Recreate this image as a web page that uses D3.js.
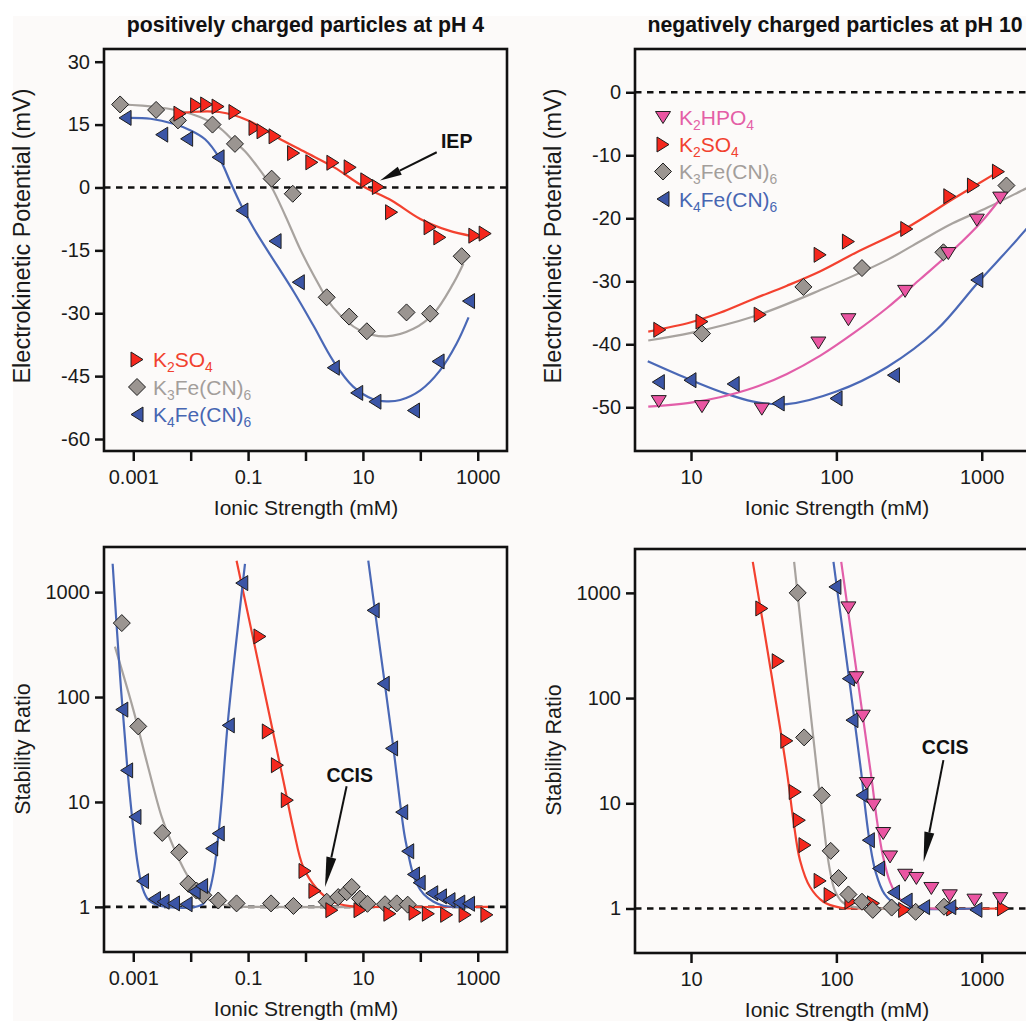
<!DOCTYPE html>
<html>
<head>
<meta charset="utf-8">
<script src="https://cdn.jsdelivr.net/npm/d3@7"></script>
<style>
  body { margin: 0; background: #ffffff; }
  svg { display: block; }
</style>
</head>
<body>
<svg id="chart" width="1026" height="1021"></svg>
<script>
// ---------------- DATA (ionic strength in mM) ----------------
const titleLeft = "positively charged particles at pH 4";
const titleRight = "negatively charged particles at pH 10";
const xAxisTitle = "Ionic Strength (mM)";
const yTitleTop = "Electrokinetic Potential (mV)";
const yTitleBottom = "Stability Ratio";

const xTicksLeft = [0.001, 0.01, 0.1, 1, 10, 100, 1000];
const xTickLabelsLeft = ["0.001", "", "0.1", "", "10", "", "1000"];
const xTicksRight = [10, 100, 1000];
const xTickLabelsRight = ["10", "100", "1000"];
const yTicksTL = [30, 15, 0, -15, -30, -45, -60];
const yTicksTR = [0, -10, -20, -30, -40, -50];
const yTicksStab = [1, 10, 100, 1000];

// legend labels: [text, subscript?]
const lblK2SO4 = [["K", 0], ["2", 1], ["SO", 0], ["4", 1]];
const lblK3Fe = [["K", 0], ["3", 1], ["Fe(CN)", 0], ["6", 1]];
const lblK4Fe = [["K", 0], ["4", 1], ["Fe(CN)", 0], ["6", 1]];
const lblK2HPO4 = [["K", 0], ["2", 1], ["HPO", 0], ["4", 1]];

// top-left: potential (mV) at pH 4
const tlK2SO4 = [[0.0065,17.6],[0.0127,19.6],[0.019,19.8],[0.030,19.3],[0.059,18.0],[0.132,14.2],[0.182,13.4],[0.295,12.2],[0.62,8.2],[1.29,6.0],[3.0,5.9],[6.0,4.8],[11.7,1.7],[18.6,0.1],[31.6,-5.9],[148,-9.5],[219,-11.9],[891,-11.5],[1349,-11.0]];
const tlK2SO4Fit = [[0.00646,17.6],[0.01,18.0],[0.0316,18.0],[0.1,16.0],[0.316,12.0],[1,8.4],[3.16,4.8],[10,0.3],[31.6,-3.1],[100,-7.5],[316,-10.3],[1000,-11.9],[1150,-12.1]];
const tlK3Fe = [[0.00059,19.8],[0.0025,18.5],[0.006,16.0],[0.024,15.0],[0.059,10.4],[0.257,2.1],[0.60,-1.5],[2.34,-26.2],[5.75,-30.8],[11.7,-34.3],[57.5,-29.8],[148,-30.1],[525,-16.4]];
const tlK3FeFit = [[0.000589,19.8],[0.00257,19.2],[0.00631,18.3],[0.0145,16.8],[0.0316,14.3],[0.055,11.2],[0.0891,8.6],[0.141,5.2],[0.251,0.3],[0.447,-6.8],[0.794,-14.5],[1.37,-20.8],[3.02,-28.6],[8.91,-34.1],[25.7,-35.5],[75.9,-33.7],[170,-30.1],[372,-23],[562,-18.2]];
const tlK4Fe = [[0.00072,16.6],[0.00313,12.6],[0.0085,11.6],[0.030,7.2],[0.078,-5.5],[0.295,-12.8],[0.75,-22.6],[3.05,-43.0],[7.8,-49.0],[16.2,-51.1],[76,-53.2],[204,-41.5],[692,-27.1]];
const tlK4FeFit = [[0.000708,16.6],[0.002,16.4],[0.00501,15.2],[0.01,13.6],[0.0178,11.5],[0.0316,7.0],[0.0501,1.0],[0.0794,-4.8],[0.126,-9.8],[0.224,-15.3],[0.631,-25.0],[1.38,-33.0],[3.02,-41.3],[6.76,-47.5],[15.1,-50.5],[25.7,-51],[44.7,-50.7],[100,-48.4],[219,-43.7],[427,-37.3],[692,-31]];

// top-right: potential (mV) at pH 10
const trK2HPO4 = [[6.0,-49.1],[11.9,-49.9],[30.7,-50.3],[75.2,-39.8],[121,-36.1],[297,-31.6],[589,-25.6],[925,-20.3],[1340,-16.8]];
const trK2HPO4Fit = [[5.08,-49.9],[10,-49.25],[15.8,-48.4],[26.9,-46.9],[45.7,-44.7],[77.6,-41.8],[132,-38.2],[224,-34.2],[380,-29.6],[638,-25.0],[1000,-20.5],[1340,-16.9]];
const trK2SO4 = [[6.1,-37.7],[11.9,-36.4],[29.9,-35.3],[77.3,-25.8],[121,-23.7],[305,-21.7],[603,-16.5],[877,-14.8],[1303,-12.6]];
const trK2SO4Fit = [[5.08,-38.0],[10,-36.5],[15.8,-35.0],[26.9,-32.8],[45.7,-30.7],[77.6,-28.4],[135,-25.5],[305,-21.5],[638,-16.9],[1303,-12.6]];
const trK3Fe = [[11.9,-38.3],[59.3,-30.9],[150,-27.9],[545,-25.4],[1479,-14.8]];
const trK3FeFit = [[5.08,-39.4],[10,-38.2],[26.9,-35.6],[77.6,-31.4],[224,-26.6],[380,-23.6],[631,-20.8],[1096,-18.3],[2042,-15.2],[2455,-14.3]];
const trK4Fe = [[5.96,-46.0],[9.84,-45.7],[19.5,-46.3],[39.8,-49.4],[99.5,-48.6],[247,-44.9],[925,-29.8]];
const trK4FeFit = [[5.04,-42.7],[9.33,-45.4],[15.8,-47.5],[26.9,-49.1],[45.7,-49.5],[100,-47.5],[224,-43.6],[490,-37.7],[933,-30.3],[1585,-24.5],[2455,-19.5]];

// bottom-left: stability ratio at pH 4
const blK2SO4 = [[0.161,378],[0.225,47],[0.324,22.4],[0.482,10.4],[0.98,2.2],[1.46,1.42],[2.88,0.93],[8.9,0.93],[29.5,0.86],[81,0.88],[138,0.86],[288,0.84],[603,0.84],[1445,0.84]];
const blK2SO4Fit = [[0.063,1995],[0.41,16.1],[0.617,5.5],[0.912,2.4],[1.567,1.5],[3.02,1.117],[5.96,1.016],[31.6,1],[1514,1]];
const blK3Fe = [[0.000631,507],[0.00122,52.5],[0.0032,5.07],[0.0063,3.31],[0.0091,1.66],[0.0126,1.43],[0.0166,1.29],[0.0302,1.15],[0.063,1.08],[0.251,1.08],[0.617,1.02],[2.34,1.12],[3.72,1.24],[5.22,1.38],[6.38,1.55],[8.91,1.20],[12.0,1.07],[24.3,1.06],[38.9,1.08],[60.3,1.05]];
const blK3FeFit = [[0.000479,302],[0.001,75.9],[0.00178,22.4],[0.00316,7.08],[0.00501,3.72],[0.00794,2.19],[0.0126,1.48],[0.0191,1.20],[0.0316,1.07],[0.0631,1.01],[0.107,1],[75.9,1]];
const blK4Fe = [[0.000631,75.9],[0.000766,20],[0.00107,7.2],[0.00145,1.76],[0.00234,1.19],[0.00331,1.12],[0.00501,1.08],[0.00832,1.06],[0.0115,1.40],[0.0155,1.58],[0.0232,3.6],[0.0302,5.0],[0.0452,53.7],[0.0776,1219],[15.1,670],[22.6,134],[31.6,32.4],[47.4,8.0],[60.3,3.39],[75.9,2.04],[95.5,1.70],[158,1.35],[224,1.26],[316,1.16],[468,1.10],[692,1.07]];
const blK4FeFitA = [[0.000437,1862],[0.000589,158],[0.000794,20],[0.001,5.62],[0.0012,2.51],[0.00145,1.51],[0.00182,1.17],[0.00251,1.05],[0.0038,1],[0.012,1],[0.0166,1.07],[0.0209,1.38],[0.0251,2.14],[0.0295,4.17],[0.0347,10.5],[0.0447,60.3],[0.0883,1862]];
const blK4FeFitB = [[12.4,1995],[20,282],[33.9,33.1],[44.7,9.55],[52.5,5.01],[60.3,3.39],[70.8,2.29],[85.1,1.70],[115,1.32],[170,1.12],[263,1.02],[447,1],[832,1]];

// bottom-right: stability ratio at pH 10
const brK2HPO4 = [[121,720],[137,156],[152,67.3],[162,15.4],[180,9.59],[210,5.16],[234,3.09],[297,2.07],[355,1.93],[450,1.55],[603,1.32],[891,1.20],[1340,1.24]];
const brK2HPO4Fit = [[108,1972],[141,141],[174,17.8],[191,6.61],[209,3.16],[234,1.78],[269,1.26],[331,1.06],[447,1],[589,1]];
const brK2SO4 = [[30.7,711],[39.8,224],[45.6,39.2],[52.1,12.8],[55.6,6.9],[60.8,4.0],[77.3,1.83],[90.6,1.34],[126,1.16],[180,1.12],[295,0.97],[631,1.0],[1413,1.0]];
const brK2SO4Fit = [[26.6,1972],[45.5,20.7],[50.6,6.9],[56.2,2.88],[65.9,1.60],[81.3,1.16],[106,1.02],[158,1],[1413,1]];
const brK3Fe = [[54.2,1000],[60.0,42.3],[79.4,11.9],[91.4,3.53],[103.5,1.95],[121,1.36],[150,1.16],[178,0.97],[240,1.02],[351,0.93],[550,1.04]];
const brK3FeFit = [[51.2,1972],[75.2,15.5],[80.4,7.59],[85.9,3.55],[91.2,2.14],[97.7,1.48],[110,1.15],[132,1.035],[178,1],[545,1]];
const brK4Fe = [[97.7,1140],[121,153],[128,61.7],[150,11.9],[166,4.46],[195,2.40],[247,1.42],[302,1.19],[398,1.03],[603,1.03],[912,0.97]];
const brK4FeFit = [[95.5,1972],[126,112],[148,20],[158,8.91],[170,4.17],[186,2.24],[214,1.38],[263,1.08],[339,1],[933,1]];

// annotations (data units)
const iepNote = { text: "IEP", label: [430, 9.3], from: [193, 8.4], to: [19.9, 1.67] };
const ccisLeft = { text: "CCIS", label: [5.9, 15.6], from: [5.2, 14.1], to: [2.19, 1.55] };
const ccisRight = { text: "CCIS", label: [560, 29.3], from: [545, 25.7], to: [398, 2.77] };

// ---------------- STYLE ----------------
const FONT = "'Liberation Sans', Arial, Helvetica, sans-serif";
const COL = {
  red:  { fill: "#f5271d", line: "#f3412f", text: "#f1412f" },
  gray: { fill: "#9b9591", line: "#a8a39f", text: "#a39e9b" },
  blue: { fill: "#3b55a6", line: "#4a68b6", text: "#4766b2" },
  pink: { fill: "#ea55a2", line: "#e25ea9", text: "#e45ea6" }
};
const SYM = {
  right: "M-6,-7.5L6,0L-6,7.5Z",
  left: "M6,-7.5L-6,0L6,7.5Z",
  down: "M-7.5,-6L7.5,-6L0,6Z",
  diamond: "M0,-8.5L8.5,0L0,8.5L-8.5,0Z"
};

const svg = d3.select("#chart");
svg.append("rect").attr("x", 13).attr("y", 16).attr("width", 1013).attr("height", 1005).attr("fill", "#fcfaf9");

function arrow(x1, y1, x2, y2, len, wid) {
  const a = Math.atan2(y2 - y1, x2 - x1);
  const bx = x2 - len * Math.cos(a), by = y2 - len * Math.sin(a);
  const nx = -Math.sin(a) * wid / 2, ny = Math.cos(a) * wid / 2;
  svg.append("line").attr("x1", x1).attr("y1", y1).attr("x2", bx).attr("y2", by)
    .attr("stroke", "#111").attr("stroke-width", 2);
  svg.append("path").attr("d", `M${x2},${y2}L${bx + nx},${by + ny}L${bx - nx},${by - ny}Z`).attr("fill", "#111");
}

function subText(parent, x, y, parts, color, size) {
  const t = parent.append("text").attr("x", x).attr("y", y).attr("font-family", FONT)
    .attr("font-size", size).attr("fill", color);
  let shifted = false;
  parts.forEach(([s, sub]) => {
    const ts = t.append("tspan").text(s);
    if (sub && !shifted) { ts.attr("dy", 5).attr("font-size", size * 0.66); shifted = true; }
    else if (sub && shifted) { ts.attr("font-size", size * 0.66); }
    else if (!sub && shifted) { ts.attr("dy", -5); shifted = false; }
  });
}

let clipN = 0;
function panel(p) {
  const g = svg.append("g");
  const x = d3.scaleLog().domain(p.xDomain).range([p.left, p.right]);
  const y = (p.yLog ? d3.scaleLog() : d3.scaleLinear()).domain(p.yDomain).range([p.bottom, p.top]);
  const id = "clip" + (clipN++);
  svg.append("clipPath").attr("id", id).append("rect")
    .attr("x", p.left).attr("y", p.top).attr("width", p.right - p.left).attr("height", p.bottom - p.top);
  const inner = g.append("g").attr("clip-path", `url(#${id})`);
  inner.append("line").attr("x1", p.left).attr("x2", p.right).attr("y1", y(p.ref)).attr("y2", y(p.ref))
    .attr("stroke", "#111").attr("stroke-width", 2.6).attr("stroke-dasharray", "6.5,5.5");
  const line = d3.line().x(d => x(d[0])).y(d => y(d[1])).curve(d3.curveCatmullRom.alpha(0.5));
  p.series.forEach(s => s.fits.forEach(f => {
    inner.append("path").attr("d", line(f)).attr("fill", "none")
      .attr("stroke", s.col.line).attr("stroke-width", 2.2);
  }));
  p.series.forEach(s => {
    g.append("g").selectAll("path").data(s.pts).join("path")
      .attr("d", SYM[s.sym])
      .attr("transform", d => `translate(${x(d[0])},${y(d[1])})`)
      .attr("fill", s.col.fill).attr("stroke", "#1e1e1e").attr("stroke-width", 1);
  });
  g.append("rect").attr("x", p.left).attr("y", p.top).attr("width", p.right - p.left).attr("height", p.bottom - p.top)
    .attr("fill", "none").attr("stroke", "#111").attr("stroke-width", 2.6);

  const styleAxis = s => {
    s.select(".domain").remove();
    s.selectAll(".tick line").attr("stroke", "#111").attr("stroke-width", 2.5);
    s.selectAll(".tick text").attr("font-size", 20).attr("fill", "#1a1a1a").attr("font-family", FONT);
  };
  g.append("g").attr("transform", `translate(0,${p.bottom})`)
    .call(d3.axisBottom(x).tickValues(p.xTicks).tickFormat(d => p.xLabels[p.xTicks.indexOf(d)]).tickSize(10).tickPadding(9))
    .call(styleAxis);
  g.append("g").attr("transform", `translate(${p.left},0)`)
    .call(d3.axisLeft(y).tickValues(p.yTicks).tickFormat(d => String(d)).tickSize(9).tickPadding(5))
    .call(styleAxis);

  // axis titles
  g.append("text").attr("x", (p.left + Math.min(p.right, 1038)) / 2 + 0.5).attr("y", p.bottom + 64)
    .attr("text-anchor", "middle").attr("font-family", FONT).attr("font-size", 21).attr("fill", "#1a1a1a")
    .text(xAxisTitle);
  g.append("text").attr("transform", `translate(${p.left - 74},${p.yTitleY}) rotate(-90)`)
    .attr("text-anchor", "middle").attr("font-family", FONT).attr("font-size", p.yTitleSize).attr("fill", "#1a1a1a")
    .text(p.yTitle);
  return { x, y, g };
}

const xDomLeft = [Math.pow(10, -3.51), Math.pow(10, 3.51)];
const xDomRight = [Math.pow(10, 0.6147), Math.pow(10, 3.387)];

const TL = panel({
  left: 104, right: 507, top: 49, bottom: 451,
  xDomain: xDomLeft, yDomain: [-62.86, 33.03], yLog: false, ref: 0,
  xTicks: xTicksLeft, xLabels: xTickLabelsLeft, yTicks: yTicksTL,
  yTitle: yTitleTop, yTitleY: 236, yTitleSize: 23.5,
  series: [
    { pts: tlK3Fe, fits: [tlK3FeFit], sym: "diamond", col: COL.gray },
    { pts: tlK4Fe, fits: [tlK4FeFit], sym: "left", col: COL.blue },
    { pts: tlK2SO4, fits: [tlK2SO4Fit], sym: "right", col: COL.red }
  ]
});
const TR = panel({
  left: 635, right: 1038, top: 49, bottom: 451,
  xDomain: xDomRight, yDomain: [-56.94, 6.87], yLog: false, ref: 0,
  xTicks: xTicksRight, xLabels: xTickLabelsRight, yTicks: yTicksTR,
  yTitle: yTitleTop, yTitleY: 236, yTitleSize: 23.5,
  series: [
    { pts: trK3Fe, fits: [trK3FeFit], sym: "diamond", col: COL.gray },
    { pts: trK4Fe, fits: [trK4FeFit], sym: "left", col: COL.blue },
    { pts: trK2HPO4, fits: [trK2HPO4Fit], sym: "down", col: COL.pink },
    { pts: trK2SO4, fits: [trK2SO4Fit], sym: "right", col: COL.red }
  ]
});
const BL = panel({
  left: 104, right: 507, top: 547, bottom: 952,
  xDomain: xDomLeft, yDomain: [Math.pow(10, -0.43), Math.pow(10, 3.43)], yLog: true, ref: 1,
  xTicks: xTicksLeft, xLabels: xTickLabelsLeft, yTicks: yTicksStab,
  yTitle: yTitleBottom, yTitleY: 749, yTitleSize: 21.5,
  series: [
    { pts: blK3Fe, fits: [blK3FeFit], sym: "diamond", col: COL.gray },
    { pts: blK2SO4, fits: [blK2SO4Fit], sym: "right", col: COL.red },
    { pts: blK4Fe, fits: [blK4FeFitA, blK4FeFitB], sym: "left", col: COL.blue }
  ]
});
const BR = panel({
  left: 635, right: 1038, top: 549, bottom: 953,
  xDomain: xDomRight, yDomain: [Math.pow(10, -0.423), Math.pow(10, 3.417)], yLog: true, ref: 1,
  xTicks: xTicksRight, xLabels: xTickLabelsRight, yTicks: yTicksStab,
  yTitle: yTitleBottom, yTitleY: 750, yTitleSize: 21.5,
  series: [
    { pts: brK2SO4, fits: [brK2SO4Fit], sym: "right", col: COL.red },
    { pts: brK3Fe, fits: [brK3FeFit], sym: "diamond", col: COL.gray },
    { pts: brK4Fe, fits: [brK4FeFit], sym: "left", col: COL.blue },
    { pts: brK2HPO4, fits: [brK2HPO4Fit], sym: "down", col: COL.pink }
  ]
});

// titles
svg.append("text").attr("x", 305.5).attr("y", 32).attr("text-anchor", "middle").attr("font-family", FONT)
  .attr("font-weight", "bold").attr("font-size", 21.3).attr("fill", "#111").text(titleLeft);
svg.append("text").attr("x", 835).attr("y", 32).attr("text-anchor", "middle").attr("font-family", FONT)
  .attr("font-weight", "bold").attr("font-size", 21.3).attr("fill", "#111").text(titleRight);

// legends
function legendRow(px, py, sym, col, parts) {
  svg.append("path").attr("d", SYM[sym]).attr("transform", `translate(${px},${py})`)
    .attr("fill", col.fill).attr("stroke", "#1e1e1e").attr("stroke-width", 1);
  subText(svg, px + 16, py + 7.5, parts, col.text, 21);
}
legendRow(137, 359.5, "right", COL.red, lblK2SO4);
legendRow(137, 387, "diamond", COL.gray, lblK3Fe);
legendRow(137, 414.5, "left", COL.blue, lblK4Fe);

legendRow(663, 117.5, "down", COL.pink, lblK2HPO4);
legendRow(663, 144.5, "right", COL.red, lblK2SO4);
legendRow(663, 171.5, "diamond", COL.gray, lblK3Fe);
legendRow(663, 199, "left", COL.blue, lblK4Fe);

// annotations
function note(P, n, len, wid) {
  svg.append("text").attr("x", P.x(n.label[0])).attr("y", P.y(n.label[1])).attr("text-anchor", "middle")
    .attr("font-family", FONT).attr("font-weight", "bold").attr("font-size", 19.5).attr("fill", "#111").text(n.text);
  arrow(P.x(n.from[0]), P.y(n.from[1]), P.x(n.to[0]), P.y(n.to[1]), len, wid);
}
note(TL, iepNote, 22, 9);
note(BL, ccisLeft, 30, 10);
note(BR, ccisRight, 30, 10);
</script>
</body>
</html>
